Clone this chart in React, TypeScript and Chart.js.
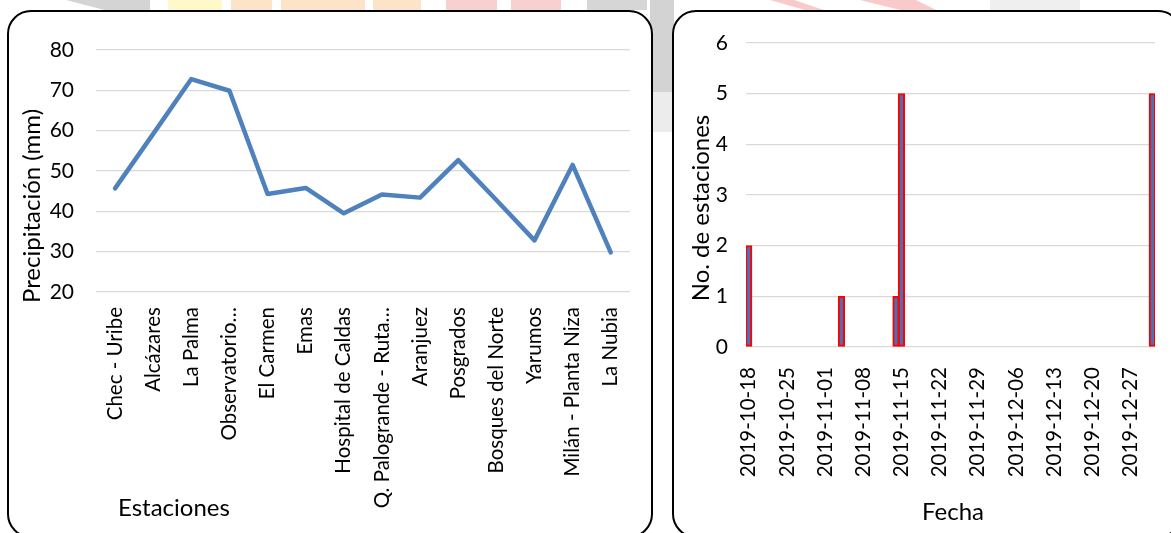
import React, { useEffect, useRef } from "react";
import { Chart, registerables } from "chart.js";

Chart.register(...registerables);

// ---------- Data: left chart ----------
const stations = [
  "Chec - Uribe",
  "Alcázares",
  "La Palma",
  "Observatorio…",
  "El Carmen",
  "Emas",
  "Hospital de Caldas",
  "Q. Palogrande - Ruta…",
  "Aranjuez",
  "Posgrados",
  "Bosques del Norte",
  "Yarumos",
  "Milán - Planta Niza",
  "La Nubia",
];
const precipitation = [45.7, 59.2, 72.8, 69.9, 44.3, 45.8, 39.5, 44.2, 43.4, 52.7, 42.8, 32.8, 51.5, 29.8];

// ---------- Data: right chart ----------
const startDate = "2019-10-18";
const endDate = "2019-12-31";
const barDates = ["2019-10-18", "2019-11-04", "2019-11-14", "2019-11-15", "2019-12-31"];
const barCounts = [2, 1, 1, 5, 5];
const dateTicks = [
  "2019-10-18",
  "2019-10-25",
  "2019-11-01",
  "2019-11-08",
  "2019-11-15",
  "2019-11-22",
  "2019-11-29",
  "2019-12-06",
  "2019-12-13",
  "2019-12-20",
  "2019-12-27",
];

const DAY = 86400000;
const toUTC = (s: string) => {
  const [y, m, d] = s.split("-").map(Number);
  return Date.UTC(y, m - 1, d);
};
const dayOf = (s: string) => Math.round((toUTC(s) - toUTC(startDate)) / DAY);
const fmtDay = (n: number) => new Date(toUTC(startDate) + n * DAY).toISOString().slice(0, 10);

const FONT = "Lato, 'Open Sans', sans-serif";
const GRID = "#D9D9D9";
const TEXT = "#000000";
const TITLE_SIZE = 24;

type TitleSpec = { text: string; x: number; y: number; rotate?: boolean };

const titlesPlugin = (id: string, titles: TitleSpec[]) => ({
  id,
  afterDraw(chart: any) {
    const ctx = chart.ctx;
    ctx.save();
    ctx.font = `${TITLE_SIZE}px ${FONT}`;
    ctx.fillStyle = TEXT;
    ctx.textBaseline = "middle";
    titles.forEach((t) => {
      ctx.save();
      ctx.translate(t.x, t.y);
      if (t.rotate) {
        ctx.rotate(-Math.PI / 2);
        ctx.textAlign = "center";
      } else {
        ctx.textAlign = "left";
      }
      ctx.fillText(t.text, 0, 0);
      ctx.restore();
    });
    ctx.restore();
  },
});

const LeftChart: React.FC = () => {
  const ref = useRef<HTMLCanvasElement>(null);
  useEffect(() => {
    if (!ref.current) return;
    const chart = new Chart(ref.current, {
      type: "line",
      data: {
        labels: stations,
        datasets: [
          {
            data: precipitation,
            borderColor: "#4F81BD",
            borderWidth: 4.5,
            pointRadius: 0,
            tension: 0,
            borderJoinStyle: "round",
            borderCapStyle: "round",
            fill: false,
          },
        ],
      },
      options: {
        animation: false,
        responsive: false,
        maintainAspectRatio: false,
        layout: { padding: { top: 38, right: 19, bottom: 0, left: 0 } },
        plugins: { legend: { display: false }, tooltip: { enabled: false } },
        scales: {
          x: {
            offset: true,
            grid: { display: false, drawTicks: false },
            border: { display: false },
            ticks: {
              autoSkip: false,
              minRotation: 90,
              maxRotation: 90,
              padding: 15,
              color: TEXT,
              font: { family: FONT, size: 20.5 },
            },
            afterFit(scale: any) {
              scale.height = 244;
            },
          },
          y: {
            min: 20,
            max: 80,
            ticks: { stepSize: 10, padding: 22, color: TEXT, font: { family: FONT, size: 21 } },
            grid: { color: GRID, lineWidth: 1.3, drawTicks: false },
            border: { display: false },
            afterFit(scale: any) {
              scale.width = 87;
            },
          },
        },
      },
      plugins: [
        titlesPlugin("leftTitles", [
          { text: "Precipitación (mm)", x: 23, y: 194, rotate: true },
          { text: "Estaciones", x: 109, y: 496 },
        ]),
      ],
    } as any);
    return () => chart.destroy();
  }, []);
  return <canvas ref={ref} width={642} height={524} style={{ display: "block", width: 642, height: 524 }} />;
};

const RightChart: React.FC = () => {
  const ref = useRef<HTMLCanvasElement>(null);
  useEffect(() => {
    if (!ref.current) return;
    const points = barDates.map((d, i) => ({ x: dayOf(d), y: barCounts[i] }));
    const chart = new Chart(ref.current, {
      type: "bar",
      data: {
        datasets: [
          {
            data: points,
            backgroundColor: "#4A6FB5",
            borderColor: "#FF0000",
            borderWidth: 2,
            borderSkipped: false,
            barThickness: 6.5,
          },
        ],
      },
      options: {
        animation: false,
        responsive: false,
        maintainAspectRatio: false,
        layout: { padding: { top: 31, right: 25, bottom: 0, left: 0 } },
        plugins: { legend: { display: false }, tooltip: { enabled: false } },
        scales: {
          x: {
            type: "linear",
            offset: false,
            min: dayOf(startDate) - 0.5,
            max: dayOf(endDate) + 0.5,
            grid: { display: false, drawTicks: false },
            border: { display: false },
            afterBuildTicks(scale: any) {
              scale.ticks = dateTicks.map((d) => ({ value: dayOf(d) }));
            },
            ticks: {
              autoSkip: false,
              minRotation: 90,
              maxRotation: 90,
              padding: 20,
              color: TEXT,
              font: { family: FONT, size: 20.5 },
              callback: (v: any) => fmtDay(Number(v)),
            },
            afterFit(scale: any) {
              scale.height = 189;
            },
          },
          y: {
            min: 0,
            max: 6,
            ticks: { stepSize: 1, padding: 18, color: TEXT, font: { family: FONT, size: 21 } },
            grid: { color: GRID, lineWidth: 1.3, drawTicks: false },
            border: { display: false },
            afterFit(scale: any) {
              scale.width = 72;
            },
          },
        },
      },
      plugins: [
        titlesPlugin("rightTitles", [
          { text: "No. de estaciones", x: 27, y: 196, rotate: true },
          { text: "Fecha", x: 248, y: 500 },
        ]),
      ],
    } as any);
    return () => chart.destroy();
  }, []);
  return <canvas ref={ref} width={506} height={524} style={{ display: "block", width: 506, height: 524 }} />;
};

const strip = (left: number, width: number, color: string, height = 10, top = 0, clip?: string): React.CSSProperties => ({
  position: "absolute",
  left,
  top,
  width,
  height,
  background: color,
  clipPath: clip,
});

export default function App() {
  const box: React.CSSProperties = {
    position: "absolute",
    top: 10,
    height: 528,
    border: "2px solid #000",
    borderRadius: 24,
    background: "#fff",
    boxSizing: "border-box",
    overflow: "hidden",
  };
  return (
    <div style={{ position: "fixed", left: 0, top: 0, width: 1171, height: 533, overflow: "hidden", background: "#fff" }}>
      {/* faded background decoration */}
      <div style={strip(66, 84, "#D4D4D4", 12, 0, "polygon(0 0, 100% 0, 100% 100%, 55% 100%)")} />
      <div style={strip(168, 54, "#FFF8C8")} />
      <div style={strip(231, 41, "#FDE4C8")} />
      <div style={strip(281, 84, "#FDE4C8")} />
      <div style={strip(373, 48, "#FDE4C8")} />
      <div style={strip(446, 51, "#F9D0D0")} />
      <div style={strip(511, 50, "#F9D0D0")} />
      <div style={strip(587, 60, "#D6D6D6")} />
      <div style={strip(650, 24, "#D3D3D3", 92, 0)} />
      <div style={strip(650, 24, "#ECECEC", 40, 92)} />
      <div style={strip(770, 60, "#F8CACA", 12, 0, "polygon(0 0, 40% 0, 100% 100%, 70% 100%)")} />
      <div style={strip(860, 80, "#F8CACA", 12, 0, "polygon(0 0, 70% 0, 100% 100%, 60% 100%)")} />
      <div style={strip(990, 90, "#EFEFEF", 12, 0)} />

      <div style={{ ...box, left: 7, width: 646 }}>
        <LeftChart />
      </div>
      <div style={{ ...box, left: 672, width: 510 }}>
        <RightChart />
      </div>
    </div>
  );
}
